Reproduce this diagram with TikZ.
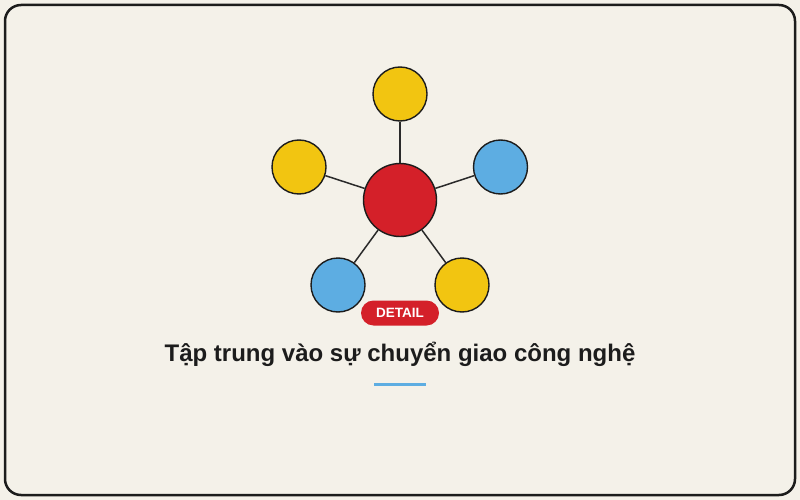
\documentclass[tikz,border=0pt]{standalone}
\usepackage{fontspec}
\setmainfont{Liberation Sans}
\definecolor{bg}{HTML}{F4F1E9}
\definecolor{frame}{HTML}{1C1C1C}
\definecolor{cred}{HTML}{D42029}
\definecolor{cyellow}{HTML}{F2C511}
\definecolor{cblue}{HTML}{5DADE2}
\definecolor{edge}{HTML}{2A2A2A}
\begin{document}
\begin{tikzpicture}[x=1pt,y=-1pt,
  hub/.style={circle,draw=frame,line width=1.4pt,fill=cred,minimum size=73pt,inner sep=0pt},
  leaf/.style={circle,draw=frame,line width=1.4pt,minimum size=54pt,inner sep=0pt},
  link/.style={draw=edge,line width=1.5pt}]
\fill[bg] (0,0) rectangle (800,500);
\useasboundingbox (0,0) rectangle (800,500);
\draw[frame,line width=2.5pt,rounded corners=16pt,fill=bg] (5,5) rectangle (795,495);
\node[hub] (c) at (400,200) {};
\node[leaf,fill=cyellow] (t) at (400,94) {};
\node[leaf,fill=cyellow] (l) at (299,167) {};
\node[leaf,fill=cblue] (r) at (500.5,167) {};
\node[leaf,fill=cblue] (bl) at (338,285) {};
\node[leaf,fill=cyellow] (br) at (462,285) {};
\draw[link] (c) -- (t);
\draw[link] (c) -- (l);
\draw[link] (c) -- (r);
\draw[link] (c) -- (bl);
\draw[link] (c) -- (br);
\node[fill=cred,rounded corners=12.5pt,minimum width=78pt,minimum height=25pt,inner sep=0pt,text=white,font=\fontsize{13.5pt}{16pt}\selectfont\bfseries] (d) at (400,313) {DETAIL};
\node[font=\fontsize{24pt}{28pt}\selectfont\bfseries,text=frame] (title) at (400,354) {Tập trung vào sự chuyển giao công nghệ};
\coordinate (ua) at (374,384.5);
\coordinate (ub) at (426,384.5);
\draw[cblue,line width=3pt] (ua) -- (ub);
\end{tikzpicture}
\end{document}
